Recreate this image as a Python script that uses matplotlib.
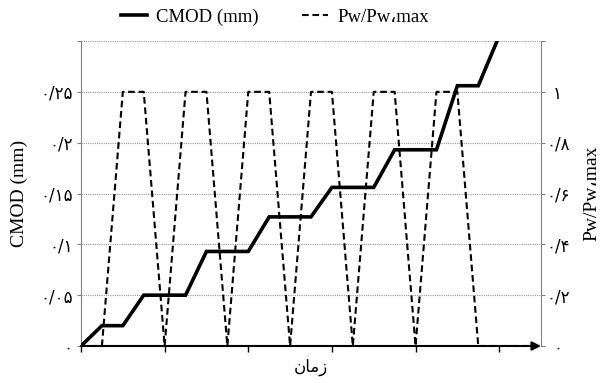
import matplotlib
matplotlib.use("Agg")
import matplotlib.pyplot as plt
from matplotlib.lines import Line2D

# ---- data ----
time_cmod = [0, 0.25, 0.5, 0.75, 1.25, 1.5, 2.0, 2.25, 2.75, 3.0, 3.5, 3.75, 4.25, 4.5, 4.75, 5.0]
cmod = [0, 0.02, 0.02, 0.05, 0.05, 0.093, 0.093, 0.127, 0.127, 0.156, 0.156, 0.193, 0.193, 0.256, 0.256, 0.305]

time_pw = [0, 0.25, 0.5, 0.75, 1.0, 1.25, 1.5, 1.75, 2.0, 2.25, 2.5, 2.75, 3.0, 3.25,
           3.5, 3.75, 4.0, 4.25, 4.5, 4.75, 5.5]
pw_ratio = [0, 0, 1, 1, 0, 1, 1, 0, 1, 1, 0, 1, 1, 0, 1, 1, 0, 1, 1, 0, 0]

left_ticks = [0, 0.05, 0.1, 0.15, 0.2, 0.25, 0.3]
left_labels = ['۰', '۰/۰۵', '۰/۱', '۰/۱۵', '۰/۲', '۰/۲۵', '']
right_ticks = [0, 0.2, 0.4, 0.6, 0.8, 1.0, 1.2]
right_labels = ['۰', '۰/۲', '۰/۴', '۰/۶', '۰/۸', '۱', '']
x_ticks = [0, 1, 2, 3, 4, 5]

label_cmod = 'CMOD (mm)'
label_pw = 'Pw/Pw\u060cmax'
xlabel = '\uFEE5\uFE8E\uFEE3\uFEAF'  # زمان (visual order, shaped)

LAT = ['Liberation Serif', 'DejaVu Sans']
FA = ['DejaVu Sans']

fig = plt.figure(figsize=(6.03, 3.83), dpi=100)
W, H = 603, 383
ax = fig.add_axes([81 / W, 37 / H, 460 / W, 305 / H])
ax2 = ax.twinx()

ax.plot(time_cmod, cmod, color='black', lw=2.6, solid_joinstyle='miter', zorder=3)
ax2.plot(time_pw, pw_ratio, color='black', lw=1.5, dashes=(3.2, 1.8), zorder=3)

ax.set_xlim(0, 5.5)
ax.set_ylim(0, 0.3)
ax2.set_ylim(0, 1.2)

ax.set_yticks(left_ticks)
ax.set_yticklabels(left_labels, family=FA, fontsize=12)
ax2.set_yticks(right_ticks)
ax2.set_yticklabels(right_labels, family=FA, fontsize=12)
for tl in ax2.get_yticklabels():
    tl.set_ha('center')

ax.set_xticks(x_ticks)
ax.set_xticklabels([])

ax.yaxis.grid(True, color='#9a9a9a', lw=0.8, linestyle=(0, (1, 1)))
ax.set_axisbelow(True)

for a in (ax, ax2):
    a.spines['top'].set_visible(False)
    a.spines['bottom'].set_visible(False)
    a.spines['left'].set_color('#808080')
    a.spines['right'].set_color('#808080')
ax.spines['right'].set_visible(False)
ax2.spines['left'].set_visible(False)

ax.tick_params(axis='y', direction='out', length=3, width=0.8, color='#808080', pad=3)
ax2.tick_params(axis='y', direction='out', length=3, width=0.8, color='#808080', pad=9)
ax.tick_params(axis='x', direction='out', length=4, width=1, color='black')

ax.annotate('', xy=(1, 0), xytext=(0, 0), xycoords='axes fraction', textcoords='axes fraction',
            arrowprops=dict(arrowstyle='-|>', color='black', lw=1.5, mutation_scale=13,
                            shrinkA=0, shrinkB=0), zorder=5, annotation_clip=False)

ax.set_ylabel(label_cmod, family=LAT, fontsize=14)
ax.yaxis.set_label_coords((28 - 81) / 460, 0.5)
ax2.set_ylabel(label_pw, family=LAT, fontsize=14)
ax2.yaxis.set_label_coords((583 - 81) / 460, 0.5)
ax.set_xlabel(xlabel, family=FA, fontsize=12, labelpad=1)

handles = [Line2D([], [], color='black', lw=2.6),
           Line2D([], [], color='black', lw=1.5, dashes=(3.2, 1.8))]
fig.legend(handles, [label_cmod, label_pw], loc='center', bbox_to_anchor=(275 / W, 1 - 17 / H),
           ncol=2, frameon=False, prop={'family': LAT, 'size': 13.5},
           handlelength=1.4, handletextpad=0.5, columnspacing=2.3)

fig.savefig('out.png', dpi=100)
